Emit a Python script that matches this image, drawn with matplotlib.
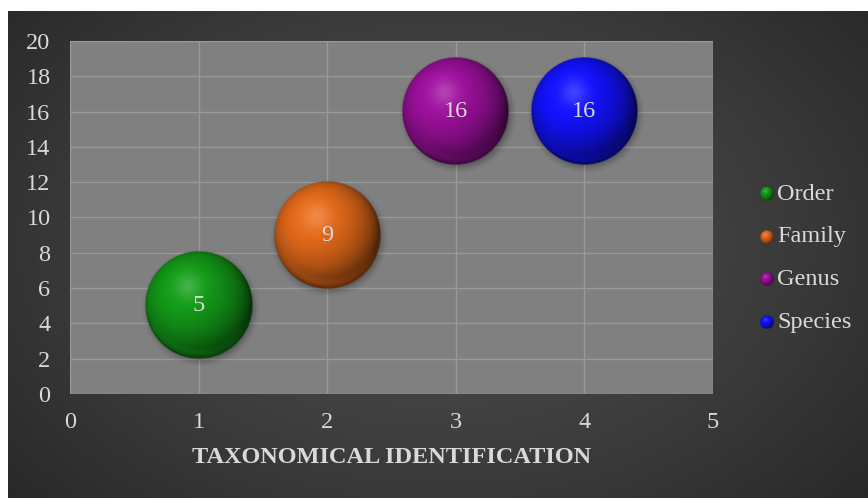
import numpy as np
import matplotlib.pyplot as plt
import matplotlib.colors as mcolors

# bubble series: taxonomic level vs. count
categories = ["Order", "Family", "Genus", "Species"]
x_vals = [1, 2, 3, 4]
y_vals = [5, 9, 16, 16]
bubble_size = [1, 1, 1, 1]
colors = ["#139a18", "#e2691a", "#9c109c", "#1212ff"]
x_ticks = [0, 1, 2, 3, 4, 5]
y_ticks = list(range(0, 21, 2))
x_label = "TAXONOMICAL IDENTIFICATION"

W, H, DPI = 868, 498, 100
BUBBLE_R = 53.5          # pixel radius of a size-1 bubble
TXT = "#d9d9d9"
FS = 17.5
SERIF = ["Liberation Serif", "DejaVu Serif"]


def sphere(color, n=256):
    """RGBA image of a lit glossy sphere."""
    rgb = np.array(mcolors.to_rgb(color))
    t = np.linspace(-1, 1, n)
    u, v = np.meshgrid(t, -t)
    r = np.sqrt(u ** 2 + v ** 2)
    z = np.sqrt(np.clip(1 - r ** 2, 0, None))
    L = np.array([-0.3, 0.35, 0.89])
    L /= np.linalg.norm(L)
    diff = np.clip(u * L[0] + v * L[1] + z * L[2], 0, 1)
    shade = 0.35 + 0.7 * diff ** 0.9
    col = rgb[None, None, :] * shade[..., None]
    light = rgb + (1 - rgb) * 0.4
    hot = np.exp(-((u + 0.2) ** 2 + (v - 0.35) ** 2) / 0.06)
    col = col * (1 - 0.5 * hot[..., None]) + light * 0.5 * hot[..., None]
    rim = np.exp(-((r - 0.9) / 0.08) ** 2) * np.clip(-v - 0.2, 0, 1)
    col = col * (1 - 0.4 * rim[..., None]) + rgb * 1.05 * 0.4 * rim[..., None]
    alpha = np.clip((1 - r) * n / 2.0, 0, 1)
    return np.dstack([np.clip(col, 0, 1), alpha])


def shadow(n=256, reach=1.12):
    t = np.linspace(-reach, reach, n)
    u, v = np.meshgrid(t, -t)
    r = np.sqrt(u ** 2 + v ** 2)
    a = 0.35 * np.clip((reach - r) / (reach - 0.92), 0, 1) ** 1.5
    img = np.zeros((n, n, 4))
    img[..., 3] = a
    return img


fig = plt.figure(figsize=(W / DPI, H / DPI), dpi=DPI, facecolor="white")

# dark panel with a soft radial glow
bg = fig.add_axes([8 / W, 0, 1 - 8 / W, 1 - 11 / H])
gx, gy = np.meshgrid(np.linspace(0, 1, 400), np.linspace(0, 1, 240))
d = np.sqrt(((gx - 0.5) / 0.62) ** 2 + ((gy - 0.48) / 0.75) ** 2)
glow = 0.30 - 0.13 * np.clip(d, 0, 1.3) ** 1.4
bg.imshow(np.dstack([glow] * 3), extent=[0, 1, 0, 1], aspect="auto", origin="upper")
bg.set_axis_off()

left, right, top, bottom = 70, 713, 41, 394
ax = fig.add_axes([left / W, 1 - bottom / H, (right - left) / W, (bottom - top) / H])
ax.set_facecolor("#808080")
ax.set_xlim(x_ticks[0], x_ticks[-1])
ax.set_ylim(y_ticks[0], y_ticks[-1])
ax.set_xticks(x_ticks)
ax.set_yticks(y_ticks)
ax.grid(True, color="#999999", lw=1.0)
ax.set_axisbelow(True)
for s in ax.spines.values():
    s.set_visible(False)
ax.tick_params(axis="x", length=0, colors=TXT, labelsize=FS, pad=13)
ax.tick_params(axis="y", length=0, colors=TXT, labelsize=FS, pad=14)
for lbl in ax.get_xticklabels() + ax.get_yticklabels():
    lbl.set_fontfamily(SERIF)
ax.set_xlabel(x_label, fontsize=FS, fontweight="bold", color=TXT, family=SERIF, labelpad=10)

# data units per pixel, so bubbles stay round on screen
ux = (x_ticks[-1] - x_ticks[0]) / (right - left)
uy = (y_ticks[-1] - y_ticks[0]) / (bottom - top)

sh = shadow()
for x, y, s, c in zip(x_vals, y_vals, bubble_size, colors):
    rp = BUBBLE_R * np.sqrt(s)
    sr = rp * 1.12
    ox, oy = 2 * ux, -2.5 * uy
    ax.imshow(sh, extent=[x - sr * ux + ox, x + sr * ux + ox, y - sr * uy + oy, y + sr * uy + oy],
              aspect="auto", zorder=2, interpolation="bilinear")
    ax.imshow(sphere(c), extent=[x - rp * ux, x + rp * ux, y - rp * uy, y + rp * uy],
              aspect="auto", zorder=3, interpolation="bilinear")
    ax.text(x, y, f"{y}", ha="center", va="center", color=TXT, fontsize=FS,
            family=SERIF, zorder=4)
ax.set_xlim(x_ticks[0], x_ticks[-1])
ax.set_ylim(y_ticks[0], y_ticks[-1])

# legend: small spheres + names
row0, step, mr = 194, 42.7, 7
for i, (name, c) in enumerate(zip(categories, colors)):
    cy = row0 + i * step
    m = fig.add_axes([(767 - mr) / W, 1 - (cy + mr) / H, 2 * mr / W, 2 * mr / H])
    m.imshow(sphere(c, 64), aspect="auto", interpolation="bilinear")
    m.set_axis_off()
    fig.text(777 / W, 1 - cy / H, name, ha="left", va="center", color=TXT,
             fontsize=FS, family=SERIF)

fig.savefig("out.png", dpi=DPI, facecolor="white")
